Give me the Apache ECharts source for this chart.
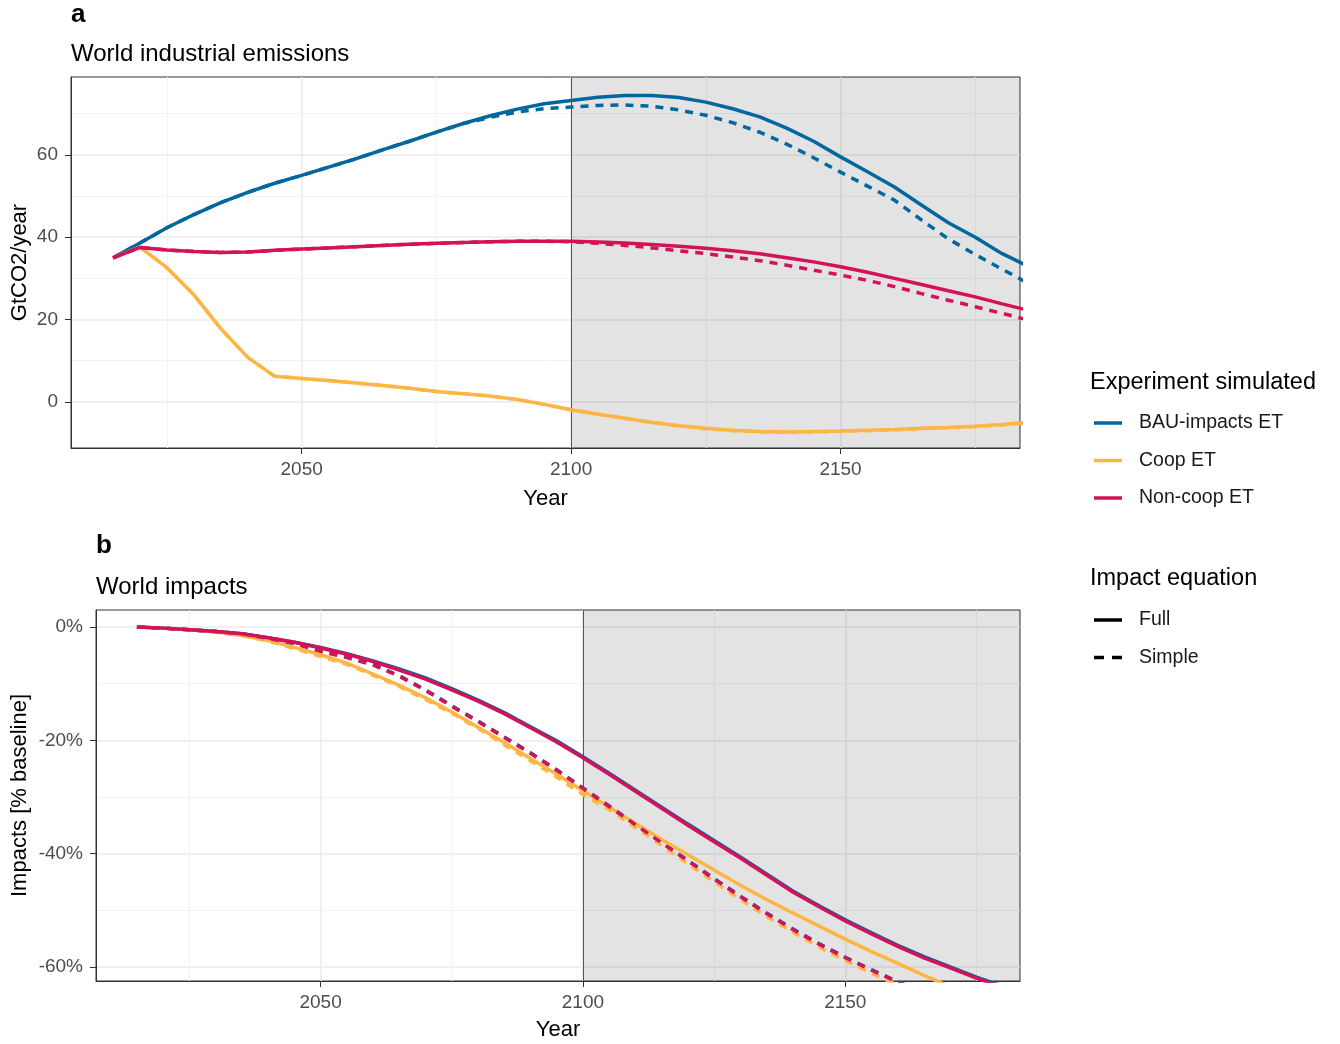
<!DOCTYPE html>
<html>
<head>
<meta charset="utf-8">
<title>World industrial emissions and impacts</title>
<script src="https://cdn.jsdelivr.net/npm/echarts@6/dist/echarts.min.js"></script>
<style>
    html, body { margin: 0; padding: 0; background: #fff; }
    #main { width: 1340px; height: 1044px; }
</style>
</head>
<body>
<div id="main"></div>
<script>
    // years sampled every 5 years (last point runs past the panel edge and is clipped)
    let years = [2015, 2020, 2025, 2030, 2035, 2040, 2045, 2050, 2055, 2060, 2065, 2070,
        2075, 2080, 2085, 2090, 2095, 2100, 2105, 2110, 2115, 2120, 2125, 2130, 2135,
        2140, 2145, 2150, 2155, 2160, 2165, 2170, 2175, 2180, 2185];

    // panel a - world industrial emissions, GtCO2/year
    let emisBauFull = [35.0, 38.6, 42.3, 45.5, 48.4, 50.9, 53.1, 55.0, 57.0, 59.0, 61.2, 63.3,
        65.5, 67.6, 69.5, 71.1, 72.4, 73.2, 74.0, 74.4, 74.4, 73.9, 72.8, 71.2, 69.2,
        66.5, 63.3, 59.5, 55.9, 52.2, 47.8, 43.5, 40.0, 36.0, 32.8];
    let emisBauSimple = [35.0, 38.6, 42.3, 45.5, 48.4, 50.9, 53.1, 55.0, 57.0, 59.0, 61.2, 63.3,
        65.5, 67.6, 69.1, 70.4, 71.2, 71.6, 72.0, 72.1, 71.8, 70.9, 69.6, 67.8, 65.5,
        62.6, 59.3, 55.8, 52.4, 49.0, 44.2, 39.6, 35.8, 32.2, 28.7];
    let emisCoopFull = [35.0, 37.6, 32.6, 26.0, 17.8, 10.8, 6.2, 5.7, 5.2, 4.6, 4.0, 3.3,
        2.5, 2.0, 1.4, 0.6, -0.6, -1.9, -3.0, -4.0, -5.0, -5.8, -6.4, -6.9, -7.2,
        -7.3, -7.2, -7.1, -6.9, -6.7, -6.4, -6.2, -5.9, -5.5, -4.9];
    let emisCoopSimple = [35.0, 37.6, 32.6, 26.0, 17.8, 10.8, 6.2, 5.7, 5.2, 4.6, 4.0, 3.3,
        2.5, 2.0, 1.4, 0.6, -0.6, -1.9, -3.0, -4.0, -5.0, -5.8, -6.5, -7.0, -7.3,
        -7.4, -7.3, -7.2, -7.0, -6.8, -6.5, -6.3, -6.0, -5.6, -5.0];
    let emisNcFull = [35.0, 37.5, 36.9, 36.5, 36.3, 36.4, 36.8, 37.1, 37.4, 37.7, 38.0, 38.3,
        38.5, 38.7, 38.9, 39.0, 39.0, 39.0, 38.8, 38.6, 38.2, 37.8, 37.3, 36.7, 36.0,
        35.0, 34.0, 32.8, 31.5, 30.0, 28.5, 27.0, 25.5, 23.8, 22.2];
    let emisNcSimple = [35.0, 37.5, 36.9, 36.5, 36.3, 36.4, 36.8, 37.1, 37.4, 37.7, 38.0, 38.3,
        38.5, 38.7, 38.9, 39.0, 39.0, 38.9, 38.5, 38.0, 37.4, 36.7, 36.0, 35.2, 34.3,
        33.2, 32.0, 30.8, 29.5, 28.0, 26.3, 24.7, 23.1, 21.5, 19.8];

    // panel b - world impacts, % of baseline
    let impBauFull = [0, -0.2, -0.5, -0.8, -1.2, -1.9, -2.7, -3.6, -4.7, -6.0, -7.4, -9.0,
        -10.9, -12.9, -15.1, -17.6, -20.1, -22.9, -25.8, -28.8, -31.8, -34.8, -37.7, -40.6, -43.6,
        -46.6, -49.2, -51.7, -54.0, -56.2, -58.2, -60.0, -61.8, -63.4, -64.9];
    let impBauSimple = [0, -0.2, -0.5, -0.8, -1.2, -2.0, -2.9, -4.2, -5.3, -6.6, -8.6, -11.1,
        -13.9, -16.6, -19.4, -22.2, -25.2, -28.4, -31.6, -34.8, -38.0, -41.2, -44.4, -47.5, -50.5,
        -53.3, -55.9, -58.3, -60.5, -62.6, -64.6, -66.5, -68.3, -70.0, -71.7];
    let impCoopFull = [0, -0.2, -0.5, -0.9, -1.5, -2.4, -3.6, -4.9, -6.4, -8.3, -10.3, -12.5,
        -15.0, -17.7, -20.4, -23.2, -26.0, -28.9, -31.8, -34.7, -37.5, -40.2, -42.9, -45.6, -48.1,
        -50.5, -52.8, -55.1, -57.3, -59.4, -61.5, -63.5, -65.5, -67.4, -69.2];
    let impCoopSimple = [0, -0.2, -0.5, -0.9, -1.5, -2.5, -3.8, -5.2, -6.6, -8.5, -10.5, -12.8,
        -15.2, -17.9, -20.8, -23.6, -26.5, -29.6, -32.2, -35.4, -38.6, -41.8, -45.0, -48.1, -51.1,
        -53.9, -56.5, -58.9, -61.1, -63.2, -65.2, -67.1, -68.9, -70.6, -72.3];
    let impNcFull = [0, -0.2, -0.5, -0.8, -1.2, -1.9, -2.7, -3.7, -4.8, -6.1, -7.6, -9.2,
        -11.1, -13.1, -15.3, -17.8, -20.3, -23.1, -26.0, -29.0, -32.0, -35.0, -37.9, -40.8, -43.8,
        -46.8, -49.4, -51.9, -54.2, -56.4, -58.4, -60.2, -62.0, -63.6, -65.1];
    let impNcSimple = [0, -0.2, -0.5, -0.8, -1.2, -2.0, -2.9, -4.3, -5.4, -6.7, -8.7, -11.2,
        -14.0, -16.7, -19.5, -22.3, -25.3, -28.5, -31.7, -34.9, -38.1, -41.3, -44.5, -47.6, -50.6,
        -53.4, -56.0, -58.4, -60.6, -62.7, -64.7, -66.6, -68.4, -70.1, -71.8];

    // axis ticks
    let yearTicks = [2050, 2100, 2150];
    let yearMinor = [2025, 2075, 2125, 2175];
    let emisTicks = [0, 20, 40, 60];
    let emisMinor = [10, 30, 50, 70];
    let impTicks = [0, -20, -40, -60];
    let impMinor = [-10, -30, -50];

    let experiments = ['BAU-impacts ET', 'Coop ET', 'Non-coop ET'];
    let equations = ['Full', 'Simple'];
    let colors = {'BAU-impacts ET': '#00689f', 'Coop ET': '#fdb643', 'Non-coop ET': '#d41159'};
    let shadeStart = 2100;

    let font = 'Liberation Sans, Arial, sans-serif';
    let xMin = 2007.2, xMax = 2183.3;
    let dash = [8, 7];

    // legend keys: solid bar and two dashes
    let solidIcon = 'path://M0,0H28V3.5H0Z';
    let dashIcon = 'path://M0,0H10V3.5H0Z M18,0H28V3.5H18Z';

    function pairs(vals) {
        return years.map((y, i) => [y, vals[i]]);
    }

    // main axis (labels, ticks, major grid) for one panel
    function mainX(gridIndex, name, gap) {
        return {
            type: 'value', gridIndex: gridIndex, min: xMin, max: xMax,
            name: name, nameLocation: 'middle', nameGap: gap, nameMoveOverlap: false,
            nameTextStyle: {fontFamily: font, fontSize: 22, color: '#000'},
            axisLine: {show: true, onZero: false, lineStyle: {color: '#333', width: 1}},
            axisTick: {show: true, length: 6, customValues: yearTicks, lineStyle: {color: '#333'}},
            axisLabel: {customValues: yearTicks, margin: 12, fontFamily: font, fontSize: 19, color: '#4d4d4d',
                formatter: v => String(v)},
            splitLine: {show: true, customValues: yearTicks, lineStyle: {color: '#ebebeb', width: 1.5}}
        };
    }
    // second axis only for the minor grid lines
    function minorX(gridIndex) {
        return {
            type: 'value', gridIndex: gridIndex, min: xMin, max: xMax, position: 'bottom',
            axisLine: {show: false}, axisLabel: {show: false, customValues: yearMinor},
            axisTick: {show: false, customValues: yearMinor},
            splitLine: {show: true, customValues: yearMinor, lineStyle: {color: '#f2f2f2', width: 1}}
        };
    }
    function mainY(gridIndex, min, max, ticks, name, gap, fmt) {
        return {
            type: 'value', gridIndex: gridIndex, min: min, max: max,
            name: name, nameLocation: 'middle', nameGap: gap, nameRotate: 90, nameMoveOverlap: false,
            nameTextStyle: {fontFamily: font, fontSize: 22, color: '#000'},
            axisLine: {show: true, onZero: false, lineStyle: {color: '#333', width: 1}},
            axisTick: {show: true, length: 6, customValues: ticks, lineStyle: {color: '#333'}},
            axisLabel: {customValues: ticks, margin: 13, fontFamily: font, fontSize: 19, color: '#4d4d4d', formatter: fmt},
            splitLine: {show: true, customValues: ticks, lineStyle: {color: '#ebebeb', width: 1.5}}
        };
    }
    function minorY(gridIndex, min, max, ticks) {
        return {
            type: 'value', gridIndex: gridIndex, min: min, max: max, position: 'left',
            axisLine: {show: false}, axisLabel: {show: false, customValues: ticks},
            axisTick: {show: false, customValues: ticks},
            splitLine: {show: true, customValues: ticks, lineStyle: {color: '#f2f2f2', width: 1}}
        };
    }

    function line(name, eq, vals, xi, yi) {
        return {
            name: name, type: 'line', xAxisIndex: xi, yAxisIndex: yi,
            data: pairs(vals), showSymbol: false, symbol: 'none', clip: true,
            color: colors[name], animation: false, z: 5,
            lineStyle: {width: 3.5, color: colors[name], type: eq === 'Full' ? 'solid' : dash}
        };
    }

    // grey projection period + the vertical line at 2100
    function shade(xi, yi) {
        return {
            name: 'shade', type: 'line', xAxisIndex: xi, yAxisIndex: yi, data: [], z: 3,
            silent: true, animation: false,
            markArea: {silent: true, itemStyle: {color: 'rgba(0,0,0,0.11)'},
                data: [[{xAxis: shadeStart}, {xAxis: xMax}]]},
            markLine: {silent: true, symbol: 'none', label: {show: false},
                lineStyle: {color: '#555', width: 1, type: 'solid'},
                data: [{xAxis: shadeStart}]}
        };
    }

    let emis = {'BAU-impacts ET': [emisBauFull, emisBauSimple], 'Coop ET': [emisCoopFull, emisCoopSimple],
        'Non-coop ET': [emisNcFull, emisNcSimple]};
    let imp = {'BAU-impacts ET': [impBauFull, impBauSimple], 'Coop ET': [impCoopFull, impCoopSimple],
        'Non-coop ET': [impNcFull, impNcSimple]};

    let series = [shade(0, 0), shade(2, 2)];
    experiments.forEach(exp => {
        series.push(line(exp, 'Full', emis[exp][0], 0, 0));
        series.push(line(exp, 'Simple', emis[exp][1], 0, 0));
    });
    experiments.forEach(exp => {
        series.push(line(exp, 'Full', imp[exp][0], 2, 2));
        series.push(line(exp, 'Simple', imp[exp][1], 2, 2));
    });
    // empty series only for the line type legend
    equations.forEach(eq => {
        series.push({name: eq, type: 'line', data: [], symbol: 'none', color: '#000',
            lineStyle: {width: 3.5, color: '#000', type: eq === 'Full' ? 'solid' : dash}});
    });

    function text(str, x, y, size, weight) {
        return {type: 'text', x: x, y: y, silent: true,
            style: {text: str, fontFamily: font, fontSize: size, fontWeight: weight || 'normal',
                fill: '#000', textVerticalAlign: 'middle'}};
    }

    let legendBase = {
        orient: 'vertical', left: 1094, itemWidth: 28, itemHeight: 3.5, itemGap: 17.5,
        padding: 0, selectedMode: false, symbolKeepAspect: false,
        textStyle: {fontFamily: font, fontSize: 19.5, color: '#1a1a1a', lineHeight: 20, padding: [0, 0, 0, 12]}
    };

    let options = {
        backgroundColor: '#fff',
        animation: false,
        grid: [
            {left: 71, top: 77, width: 949, height: 371, show: true, borderColor: '#333', borderWidth: 1,
                backgroundColor: 'transparent', containLabel: false, outerBoundsMode: 'none'},
            {left: 96, top: 610, width: 924, height: 371, show: true, borderColor: '#333', borderWidth: 1,
                backgroundColor: 'transparent', containLabel: false, outerBoundsMode: 'none'}
        ],
        xAxis: [mainX(0, 'Year', 40), minorX(0), mainX(1, 'Year', 38), minorX(1)],
        yAxis: [
            mainY(0, -11.2, 78.9, emisTicks, 'GtCO2/year', 40, v => v),
            minorY(0, -11.2, 78.9, emisMinor),
            mainY(1, -62.5, 3.0, impTicks, 'Impacts [% baseline]', 65, v => v + '%'),
            minorY(1, -62.5, 3.0, impMinor)
        ],
        legend: [
            Object.assign({}, legendBase, {top: 413, data: experiments.map(n => ({name: n, icon: solidIcon}))}),
            Object.assign({}, legendBase, {top: 610, data: [{name: 'Full', icon: solidIcon}, {name: 'Simple', icon: dashIcon}]})
        ],
        graphic: [
            text('a', 71, 15, 26, 'bold'),
            text('World industrial emissions', 71, 54, 24),
            text('b', 96, 546, 26, 'bold'),
            text('World impacts', 96, 587, 24),
            text('Experiment simulated', 1090, 383, 23.5),
            text('Impact equation', 1090, 579, 23.5)
        ],
        series: series
    };

    let myChart = echarts.init(document.getElementById('main'), null, {renderer: 'canvas'});
    myChart.setOption(options);
</script>
</body>
</html>
